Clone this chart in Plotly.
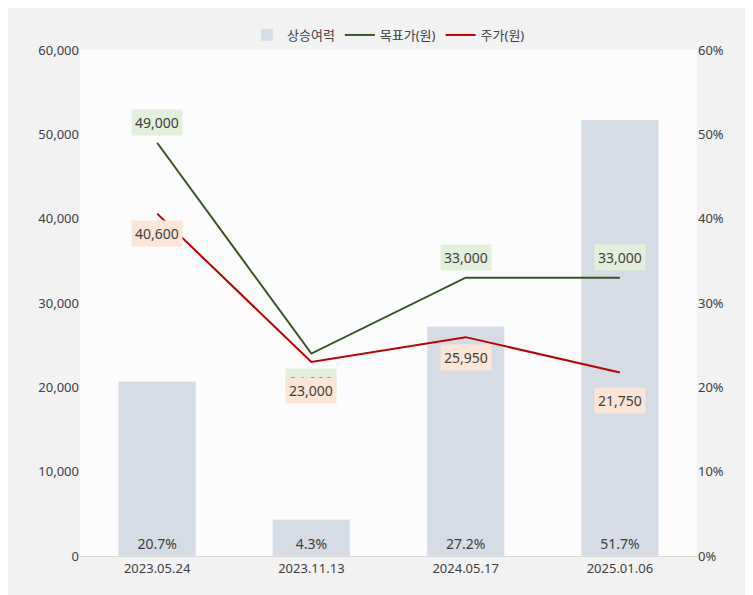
import plotly.graph_objects as go

dates = ["2023.05.24", "2023.11.13", "2024.05.17", "2025.01.06"]
upside = [20.7, 4.3, 27.2, 51.7]
target = [49000, 24000, 33000, 33000]
price = [40600, 23000, 25950, 21750]
target_labels = ["49,000", "24,000", "33,000", "33,000"]
price_labels = ["40,600", "23,000", "25,950", "21,750"]

font = "Noto Sans, Noto Sans CJK KR"
fig = go.Figure()
fig.add_trace(go.Bar(x=dates, y=upside, name="상승여력", yaxis="y", marker_color="#d6dce5",
                     width=0.5, text=[f"{v}%" for v in upside], textposition="inside",
                     insidetextanchor="start", textfont=dict(size=14, color="#404040")))
fig.add_trace(go.Scatter(x=dates, y=target, name="목표가(원)", mode="lines", yaxis="y2",
                         line=dict(color="#375623", width=2)))
fig.add_trace(go.Scatter(x=dates, y=price, name="주가(원)", mode="lines", yaxis="y2",
                         line=dict(color="#c00000", width=2)))

t_shift = [20, -28, 20, 20]
p_shift = [-20, -28, -20, -28]
for i, d in enumerate(dates):
    fig.add_annotation(x=d, y=target[i], yref="y2", text=target_labels[i], showarrow=False, yshift=t_shift[i],
                       bgcolor="#e2efda", font=dict(size=14, color="#404040"), borderpad=3)
    fig.add_annotation(x=d, y=price[i], yref="y2", text=price_labels[i], showarrow=False, yshift=p_shift[i],
                       bgcolor="#fce4d6", font=dict(size=14, color="#404040"), borderpad=3)

fig.update_layout(
    width=753, height=595, paper_bgcolor="#f2f2f2", plot_bgcolor="#fcfcfc",
    font=dict(family=font, size=13, color="#404040"),
    margin=dict(l=72, r=64, t=30, b=47),
    legend=dict(orientation="h", x=0.5, xanchor="center", y=1.0, yanchor="bottom", font=dict(size=13),
                traceorder="normal"),
    bargap=0.5,
    xaxis=dict(showgrid=False, showline=True, linecolor="#d9d9d9", ticks=""),
    yaxis=dict(range=[0, 60], dtick=10, ticksuffix="%", side="right", showgrid=False, zeroline=False),
    yaxis2=dict(range=[0, 60000], dtick=10000, tickformat=",", overlaying="y", side="left",
                showgrid=False, zeroline=False),
)
fig.write_html("out.html")
